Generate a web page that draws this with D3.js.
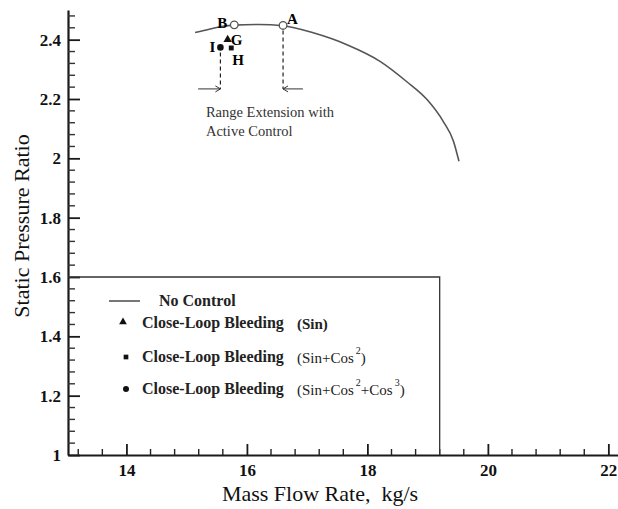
<!DOCTYPE html>
<html>
<head>
<meta charset="utf-8">
<script src="https://cdn.jsdelivr.net/npm/d3@7"></script>
<style>
  body { margin: 0; background: #fff; }
  text { font-family: "Liberation Serif", "Times New Roman", serif; }
</style>
</head>
<body>
<div id="chart"></div>
<script>
// data
var noControlX = [15.14, 15.39, 15.6, 15.79, 16.2, 16.6, 17.1, 17.66, 18.21, 18.65, 18.99, 19.26, 19.43, 19.52];
var noControlY = [2.424, 2.436, 2.445, 2.449, 2.451, 2.447, 2.423, 2.383, 2.327, 2.259, 2.198, 2.124, 2.057, 1.99];

var openPointNames = ["B", "A"];
var openPointX = [15.79, 16.6];
var openPointY = [2.45, 2.448];

var sinPoint = [15.68, 2.40];        // G, triangle
var sinCos2Point = [15.74, 2.372];   // H, square
var sinCos3Point = [15.56, 2.374];   // I, circle

var xMajorTicks = [14, 16, 18, 20, 22];
var yMajorTicks = [1, 1.2, 1.4, 1.6, 1.8, 2, 2.2, 2.4];

var legendBoxX = 19.2, legendBoxY = 1.6;
var arrowY = 2.234;

function pressure_chart() {
  var margin = {top: 10, right: 0, bottom: 54, left: 68};
  var width = 618 - margin.left - margin.right,
      height = 509 - margin.top - margin.bottom;

  var svg = d3.select("#chart").append("svg")
      .attr("width", width + margin.left + margin.right)
      .attr("height", height + margin.top + margin.bottom)
    .append("g")
      .attr("transform", "translate(" + margin.left + "," + margin.top + ")");

  var x = d3.scaleLinear().domain([13.03, 22.16]).range([0, width]);
  var y = d3.scaleLinear().domain([1, 2.5]).range([height, 0]);

  // minor ticks, drawn by hand
  var xMinor = d3.range(13.2, 22.1, 0.4).filter(function(v) { return Math.abs(v/2 - Math.round(v/2)) > 0.01; });
  var yMinor = d3.range(1.04, 2.49, 0.04).filter(function(v) { return Math.abs(v/0.2 - Math.round(v/0.2)) > 0.01; });

  var xAxis = svg.append("g")
      .attr("transform", "translate(0," + height + ")")
      .call(d3.axisBottom(x).tickValues(xMajorTicks).tickSize(-11).tickSizeOuter(0).tickPadding(9)
        .tickFormat(d3.format("d")));
  var yAxis = svg.append("g")
      .call(d3.axisLeft(y).tickValues(yMajorTicks).tickSize(-12).tickSizeOuter(0).tickPadding(7)
        .tickFormat(function(d) { return String(d); }));

  [xAxis, yAxis].forEach(function(g) {
    g.select(".domain").attr("stroke", "#1a1a1a").attr("stroke-width", 2.2);
    g.selectAll(".tick line").attr("stroke", "#1a1a1a").attr("stroke-width", 1.8);
    g.selectAll(".tick text").attr("fill", "#111").style("font-size", "17px")
      .style("font-weight", "bold").style("font-family", "Liberation Serif, serif");
  });

  var minor = svg.append("g").attr("class", "minor-ticks");
  minor.selectAll("line.xminor")
      .data(xMinor)
    .enter().append("line")
      .attr("class", "xminor")
      .attr("x1", function(d) { return x(d); }).attr("x2", function(d) { return x(d); })
      .attr("y1", height).attr("y2", height - 6)
      .attr("stroke", "#222").attr("stroke-width", 1.4);
  minor.selectAll("line.yminor")
      .data(yMinor)
    .enter().append("line")
      .attr("class", "yminor")
      .attr("y1", function(d) { return y(d); }).attr("y2", function(d) { return y(d); })
      .attr("x1", 0).attr("x2", 7)
      .attr("stroke", "#333").attr("stroke-width", 1.4);

  // axis titles
  svg.append("text")
      .attr("x", 320 - margin.left).attr("y", height + 46)
      .attr("text-anchor", "middle")
      .style("font-size", "22px").attr("fill", "#111")
      .text("Mass Flow Rate,\u00a0 kg/s");
  svg.append("text")
      .attr("transform", "translate(" + (29 - margin.left) + "," + (226 - margin.top) + ") rotate(-90)")
      .attr("text-anchor", "middle")
      .style("font-size", "22px").attr("fill", "#111")
      .text("Static Pressure Ratio");

  // legend box
  svg.append("path")
      .attr("d", "M" + x(13.03) + "," + y(legendBoxY) + "H" + x(legendBoxX) + "V" + y(1))
      .attr("fill", "none").attr("stroke", "#333").attr("stroke-width", 1.3);

  // no control curve
  var line = d3.line().curve(d3.curveMonotoneX)
      .x(function(d) { return x(d[0]); }).y(function(d) { return y(d[1]); });
  svg.append("path")
      .datum(d3.zip(noControlX, noControlY))
      .attr("d", line)
      .attr("fill", "none").attr("stroke", "#555").attr("stroke-width", 1.6);

  // dashed guide lines and arrows
  var dash = "4,3";
  svg.append("line")
      .attr("x1", x(sinCos3Point[0])).attr("x2", x(sinCos3Point[0]))
      .attr("y1", y(sinCos3Point[1]) + 5).attr("y2", y(arrowY))
      .attr("stroke", "#222").attr("stroke-dasharray", dash).attr("stroke-width", 1.2);
  svg.append("line")
      .attr("x1", x(openPointX[1])).attr("x2", x(openPointX[1]))
      .attr("y1", y(openPointY[1]) + 5).attr("y2", y(arrowY))
      .attr("stroke", "#222").attr("stroke-dasharray", dash).attr("stroke-width", 1.2);

  function arrow(x0, x1) {
    var dir = x1 > x0 ? 1 : -1;
    svg.append("line")
        .attr("x1", x(x0)).attr("x2", x(x1))
        .attr("y1", y(arrowY)).attr("y2", y(arrowY))
        .attr("stroke", "#333").attr("stroke-width", 1);
    svg.append("path")
        .attr("d", "M" + (x(x1) - dir * 5) + "," + (y(arrowY) - 3) + "L" + x(x1) + "," + y(arrowY) +
                   "L" + (x(x1) - dir * 5) + "," + (y(arrowY) + 3))
        .attr("fill", "none").attr("stroke", "#333").attr("stroke-width", 1);
  }
  arrow(15.19, sinCos3Point[0]);
  arrow(16.93, openPointX[1]);

  svg.append("text")
      .attr("x", x(15.32)).attr("y", 117 - margin.top)
      .style("font-size", "14.5px").attr("fill", "#333")
      .text("Range Extension with");
  svg.append("text")
      .attr("x", x(15.32)).attr("y", 136 - margin.top)
      .style("font-size", "14.5px").attr("fill", "#333")
      .text("Active Control");

  // open points A, B
  svg.selectAll("circle.open")
      .data(d3.zip(openPointNames, openPointX, openPointY))
    .enter().append("circle")
      .attr("class", "open")
      .attr("cx", function(d) { return x(d[1]); })
      .attr("cy", function(d) { return y(d[2]); })
      .attr("r", 3.8)
      .attr("fill", "#fff").attr("stroke", "#555").attr("stroke-width", 1.3);

  svg.append("text").attr("x", x(openPointX[0]) - 7).attr("y", y(openPointY[0]) + 3)
      .attr("text-anchor", "end").style("font-size", "15px").style("font-weight", "bold").text("B");
  svg.append("text").attr("x", x(openPointX[1]) + 4).attr("y", y(openPointY[1]) - 1)
      .style("font-size", "15px").style("font-weight", "bold").text("A");

  // control points
  var tri = d3.symbol().type(d3.symbolTriangle).size(30);
  var sq = d3.symbol().type(d3.symbolSquare).size(24);
  svg.append("path").attr("d", tri)
      .attr("transform", "translate(" + x(sinPoint[0]) + "," + y(sinPoint[1]) + ")").attr("fill", "#111");
  svg.append("path").attr("d", sq)
      .attr("transform", "translate(" + x(sinCos2Point[0]) + "," + y(sinCos2Point[1]) + ")").attr("fill", "#111");
  svg.append("circle")
      .attr("cx", x(sinCos3Point[0])).attr("cy", y(sinCos3Point[1])).attr("r", 3.3).attr("fill", "#111");

  svg.append("text").attr("x", x(sinPoint[0]) + 3).attr("y", y(sinPoint[1]) + 5)
      .style("font-size", "15px").style("font-weight", "bold").text("G");
  svg.append("text").attr("x", x(sinCos2Point[0]) + 1).attr("y", y(sinCos2Point[1]) + 17)
      .style("font-size", "15px").style("font-weight", "bold").text("H");
  svg.append("text").attr("x", x(sinCos3Point[0]) - 5).attr("y", y(sinCos3Point[1]) + 5)
      .attr("text-anchor", "end")
      .style("font-size", "15px").style("font-weight", "bold").text("I");

  // legend
  var lg = svg.append("g").attr("transform", "translate(" + (-margin.left) + "," + (-margin.top) + ")");
  lg.append("line").attr("x1", 109).attr("x2", 140).attr("y1", 301).attr("y2", 301)
      .attr("stroke", "#555").attr("stroke-width", 1.6);
  lg.append("text").attr("x", 159).attr("y", 306)
      .style("font-size", "16px").style("font-weight", "bold").attr("fill", "#222").text("No Control");

  lg.append("path").attr("d", d3.symbol().type(d3.symbolTriangle).size(26))
      .attr("transform", "translate(123,322)").attr("fill", "#111");
  lg.append("path").attr("d", d3.symbol().type(d3.symbolSquare).size(22))
      .attr("transform", "translate(126,357)").attr("fill", "#111");
  lg.append("circle").attr("cx", 126).attr("cy", 389).attr("r", 3).attr("fill", "#111");

  var rows = [
    {y: 328, extra: [["(Sin)", false]], bold: true},
    {y: 362, extra: [["(Sin+Cos", false], ["2", true], [")", false]], bold: false},
    {y: 394, extra: [["(Sin+Cos", false], ["2", true], ["+Cos", false], ["3", true], [")", false]], bold: false}
  ];
  rows.forEach(function(r) {
    lg.append("text").attr("x", 142).attr("y", r.y)
        .style("font-size", "16px").style("font-weight", "bold").attr("fill", "#222").text("Close-Loop Bleeding");
    var t = lg.append("text").attr("x", 297).attr("y", r.y + 1).attr("fill", "#222")
        .style("font-size", "15px").style("font-weight", r.bold ? "bold" : "normal");
    r.extra.forEach(function(p, i) {
      var s = t.append("tspan").text(p[0]);
      if (p[1]) s.attr("dy", -9).style("font-size", "10px").attr("dx", 2);
      else if (i > 0) s.attr("dy", 9);
    });
  });
}

pressure_chart();
</script>
</body>
</html>
